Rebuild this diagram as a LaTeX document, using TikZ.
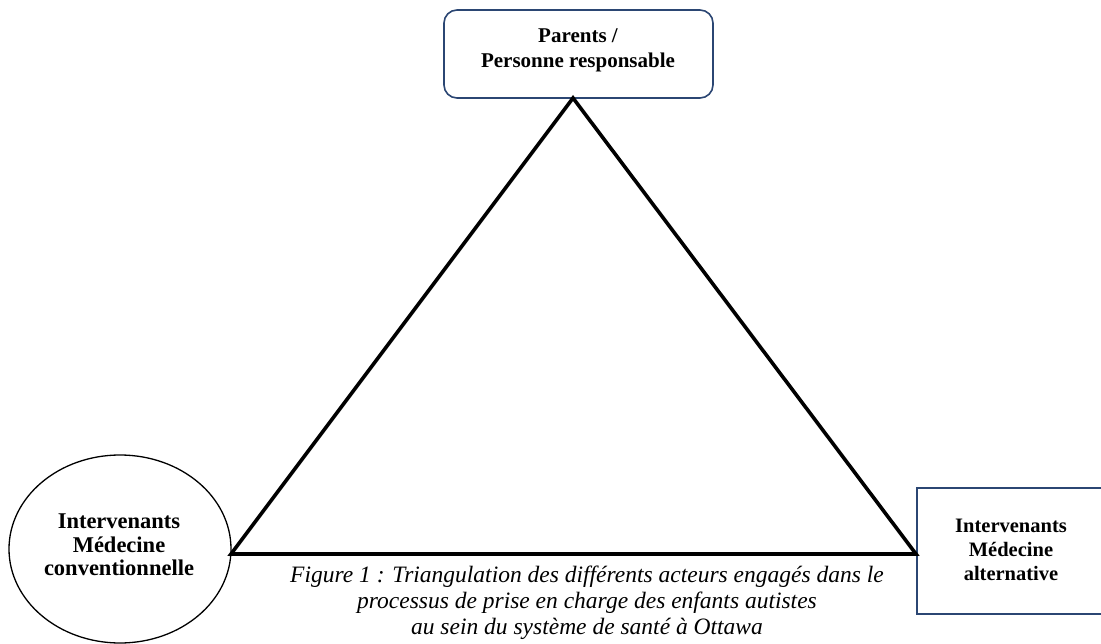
\documentclass[tikz,border=0pt]{standalone}
\usepackage{fontspec}
\setmainfont{Liberation Serif}
\usetikzlibrary{shapes.geometric}
\definecolor{boxblue}{HTML}{2B4673}
\tikzset{
  lbl/.style={align=center, font=\bfseries\fontsize{21}{25}\selectfont, text=black},
  topbox/.style={draw=boxblue, line width=1.6pt, rounded corners=13pt, minimum width=269pt, minimum height=88pt, inner sep=0pt},
  ovalbox/.style={draw=black, line width=1.3pt, ellipse, minimum width=222pt, minimum height=188pt, inner sep=0pt},
  tri/.style={draw=black, line width=3.6pt, line join=miter},
  caption/.style={align=center, font=\itshape\fontsize{23.5}{26}\selectfont}
}
\begin{document}
\begin{tikzpicture}[x=1pt,y=-1pt]
\useasboundingbox (0,0) rectangle (1101,644);
% nodes
\node[topbox] (parents) at (578.5,54) {};
\node[lbl] (parentstxt) at (578,50) {Parents /\\Personne responsable};
\node[ovalbox] (conv) at (120,549) {};
\node[lbl, font=\bfseries\fontsize{22.5}{23.5}\selectfont] (convtxt) at (119,545) {Intervenants\\Médecine\\conventionnelle};
\node (alt) at (1010,551) {};
\node[lbl, font=\bfseries\fontsize{20.5}{24}\selectfont] (alttxt) at (1011,550) {Intervenants\\Médecine\\alternative};
\draw[draw=boxblue, line width=1.6pt] (1101,488) -- (917,488) -- (917,614) -- (1101,614);
% triangle vertices
\coordinate (A) at (573,98);
\coordinate (B) at (231,554);
\coordinate (C) at (916,554);
\draw[tri] (A) -- (B) -- (C) -- cycle;
% caption
\node[caption] (cap) at (587,603) {Figure 1 : Triangulation des différents acteurs engagés dans le\\processus de prise en charge des enfants autistes\\au sein du système de santé à Ottawa};
\end{tikzpicture}
\end{document}
